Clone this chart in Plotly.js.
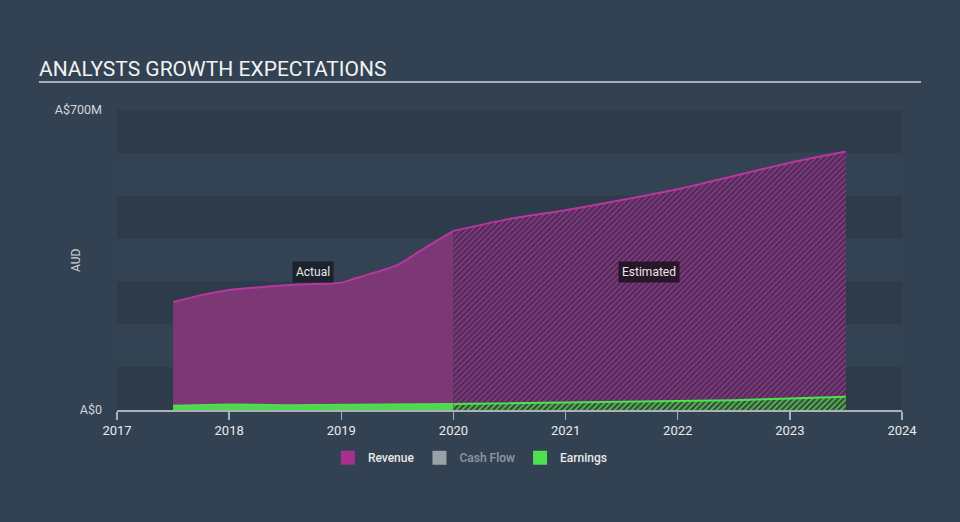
<!DOCTYPE html>
<html>
<head>
<meta charset="utf-8">
<script src="https://cdn.plot.ly/plotly-3.0.1.min.js"></script>
<style>
html,body{margin:0;padding:0;background:#324252;}
#chart{width:960px;height:522px;}
</style>
</head>
<body>
<div id="chart"></div>
<script>
// ---- data (A$ millions) ----
const revenueActualX = [2017.5, 2017.75, 2018.0, 2018.25, 2018.5, 2018.75, 2019.0, 2019.1, 2019.25, 2019.5, 2019.75, 2020.0];
const revenueActualY = [252, 268, 280, 286, 291, 294, 297, 305, 317, 338, 379, 418];
const revenueEstX = [2020.0, 2020.5, 2021.0, 2021.5, 2022.0, 2022.5, 2023.0, 2023.5];
const revenueEstY = [418, 446, 466, 490, 515, 546, 577, 603];
const earningsActualX = [2017.5, 2018.0, 2018.5, 2019.0, 2019.5, 2020.0];
const earningsActualY = [10, 13, 11, 12, 13, 14];
const earningsEstX = [2020.0, 2021.0, 2022.0, 2022.5, 2023.0, 2023.5];
const earningsEstY = [14, 17, 21, 23, 27, 31];
const xTickVals = [2017, 2018, 2019, 2020, 2021, 2022, 2023, 2024];
const xTickText = ['2017', '2018', '2019', '2020', '2021', '2022', '2023', '2024'];
const yTickVals = [0, 700];
const yTickText = ['A$0', 'A$700M'];
const bandStarts = [0, 200, 400, 600];
const bandSize = 100;
const legendNames = ['Revenue', 'Cash Flow', 'Earnings'];
const legendColors = ['#a8308f', '#ffffff', '#4ee04e'];

const revLine = '#b8369f';
const earnLine = '#4ee04e';

const traces = [
  {x: revenueActualX, y: revenueActualY, type: 'scatter', mode: 'lines', fill: 'tozeroy',
   fillcolor: '#7b3874', line: {color: revLine, width: 2, shape: 'spline', smoothing: 0.5},
   showlegend: false, hoverinfo: 'skip'},
  {x: revenueEstX, y: revenueEstY, type: 'scatter', mode: 'lines', fill: 'tozeroy',
   fillpattern: {shape: '/', bgcolor: '#4c2d57', fgcolor: '#8c3884', size: 4, solidity: 0.4},
   line: {color: revLine, width: 2, shape: 'spline', smoothing: 0.5},
   showlegend: false, hoverinfo: 'skip'},
  {x: earningsActualX, y: earningsActualY, type: 'scatter', mode: 'lines', fill: 'tozeroy',
   fillcolor: '#4fd84f', line: {color: earnLine, width: 2},
   showlegend: false, hoverinfo: 'skip'},
  {x: earningsEstX, y: earningsEstY, type: 'scatter', mode: 'lines', fill: 'tozeroy',
   fillpattern: {shape: '/', bgcolor: '#38483f', fgcolor: '#50c04e', size: 4, solidity: 0.45},
   line: {color: earnLine, width: 2},
   showlegend: false, hoverinfo: 'skip'}
];
legendNames.forEach((n, i) => {
  traces.push({x: [null], y: [null], type: 'scatter', mode: 'markers', name: n,
    marker: {symbol: 'square', size: 14, color: legendColors[i]},
    visible: n === 'Cash Flow' ? 'legendonly' : true, legendrank: i + 1});
});

const shapes = bandStarts.map(b => ({
  type: 'rect', xref: 'paper', yref: 'y', x0: 0, x1: 1, y0: b, y1: b + bandSize,
  fillcolor: '#2e3b4a', line: {width: 0}, layer: 'below'
}));
shapes.push({type: 'line', xref: 'paper', yref: 'paper', x0: -0.0994, x1: 1.0242, y0: 1.0933, y1: 1.0933,
  line: {color: '#a9b1b9', width: 2}});

const layout = {
  width: 960, height: 522,
  paper_bgcolor: '#324252', plot_bgcolor: '#334353',
  font: {family: 'Roboto, sans-serif', color: '#e0e0e0', size: 12},
  margin: {l: 117, r: 58, t: 110, b: 112},
  title: {text: 'ANALYSTS GROWTH EXPECTATIONS', x: 0.0406, xanchor: 'left', xref: 'container',
    y: 0.869, yanchor: 'middle', yref: 'container',
    font: {family: 'Roboto, sans-serif', size: 21, color: '#f2f2f2'}},
  xaxis: {range: [2017, 2024], tickvals: xTickVals, ticktext: xTickText, showgrid: false, zeroline: false,
    showline: true, linecolor: '#a9b1b9', linewidth: 1.5, ticks: 'outside', ticklen: 8, tickcolor: '#a9b1b9',
    tickwidth: 1.5, tickfont: {size: 13, color: '#eaeaea'}, fixedrange: true},
  yaxis: {range: [0, 700], tickvals: yTickVals, ticktext: yTickText, showgrid: false, zeroline: false,
    showline: false, ticks: '', ticklabelstandoff: 14, tickfont: {size: 12.5, color: '#d6d6d6'}, fixedrange: true},
  shapes: shapes,
  annotations: [
    {text: 'AUD', xref: 'paper', yref: 'paper', x: -0.0522, y: 0.5, xanchor: 'center', yanchor: 'middle',
     textangle: -90, showarrow: false, font: {size: 12, color: '#d0d0d0'}},
    {text: 'Actual', x: 2018.75, y: 322, xref: 'x', yref: 'y', showarrow: false,
     bgcolor: 'rgba(22,28,36,0.85)', borderpad: 3, font: {size: 12, color: '#e8e8e8'}},
    {text: 'Estimated', x: 2021.74, y: 322, xref: 'x', yref: 'y', showarrow: false,
     bgcolor: 'rgba(28,18,30,0.85)', borderpad: 3, font: {size: 12, color: '#e8e8e8'}}
  ],
  legend: {orientation: 'h', xref: 'container', yref: 'container', x: 0.49, xanchor: 'center',
    y: 0.123, yanchor: 'middle', font: {size: 12, color: '#e8e8e8', weight: 500}, bgcolor: 'rgba(0,0,0,0)',
    itemclick: false, itemdoubleclick: false}
};

Plotly.newPlot('chart', traces, layout, {displayModeBar: false, staticPlot: true});
</script>
</body>
</html>
